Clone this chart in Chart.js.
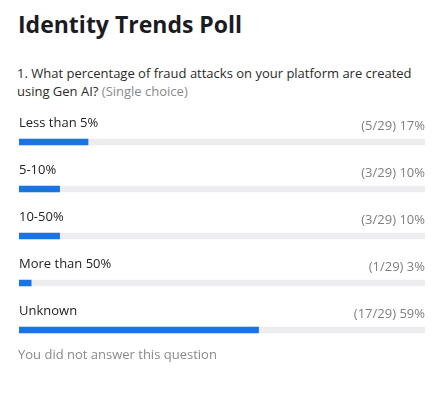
<!DOCTYPE html>
<html>
<head>
<meta charset="utf-8">
<script src="https://cdn.jsdelivr.net/npm/chart.js@4"></script>
<style>
    html, body { margin: 0; padding: 0; background: #fff; }
    body { width: 446px; height: 418px; position: relative; overflow: hidden; font-family: "Open Sans", "Noto Sans", sans-serif; }
    .title { position: absolute; left: 18px; top: 8px; font-size: 23px; font-weight: 700; color: #1b1b24; }
    .question { position: absolute; left: 17px; top: 64px; font-size: 13px; line-height: 18px; color: #2a2a2a; }
    .question .hint { color: #8a8a8a; }
    .note { position: absolute; left: 18px; top: 345px; font-size: 13px; color: #8a8a8a; }
    .chart-box { position: absolute; left: 0; top: 100px; width: 446px; height: 260px; }
</style>
</head>
<body>
<div class="title">Identity Trends Poll</div>
<div class="question">1. What percentage of fraud attacks on your platform are created<br>using Gen AI? <span class="hint">(Single choice)</span></div>
<div class="chart-box"><canvas id="pollChart"></canvas></div>
<div class="note">You did not answer this question</div>

<script>
// Datos de la encuesta
const choices    = ['Less than 5%', '5-10%', '10-50%', 'More than 50%', 'Unknown'];
const votes      = [5, 3, 3, 1, 17];
const percents   = [17, 10, 10, 3, 59];
const totalVotes = 29;
const fullTrack  = [100, 100, 100, 100, 100];

// Etiquetas encima de cada barra
const rowLabels = {
    id: 'rowLabels',
    afterDatasetsDraw(chart) {
        const { ctx, chartArea } = chart;
        const bars = chart.getDatasetMeta(0).data;
        ctx.save();
        ctx.font = '13px "Open Sans", "Noto Sans", sans-serif';
        ctx.textBaseline = 'middle';
        bars.forEach((bar, i) => {
            ctx.fillStyle = '#222';
            ctx.textAlign = 'left';
            ctx.fillText(choices[i], chartArea.left, bar.y - 19);
            ctx.fillStyle = '#808080';
            ctx.textAlign = 'right';
            ctx.fillText(`(${votes[i]}/${totalVotes}) ${percents[i]}%`, chartArea.right, bar.y - 16);
        });
        ctx.restore();
    }
};

const ctx = document.getElementById('pollChart').getContext('2d');
new Chart(ctx, {
    type: 'bar',
    data: {
        labels: choices,
        datasets: [
            { data: percents, backgroundColor: '#1a73e3', barThickness: 6, grouped: false, borderRadius: 0 },
            { data: fullTrack, backgroundColor: '#ededf0', barThickness: 6, grouped: false, borderRadius: 0 }
        ]
    },
    options: {
        indexAxis: 'y',
        responsive: true,
        maintainAspectRatio: false,
        animation: false,
        layout: { padding: { left: 19, right: 21, top: 18.5, bottom: 6.5 } },
        plugins: { legend: { display: false }, tooltip: { enabled: false } },
        scales: {
            x: { display: false, min: 0, max: 100 },
            y: { display: false }
        }
    },
    plugins: [rowLabels]
});
</script>
</body>
</html>
